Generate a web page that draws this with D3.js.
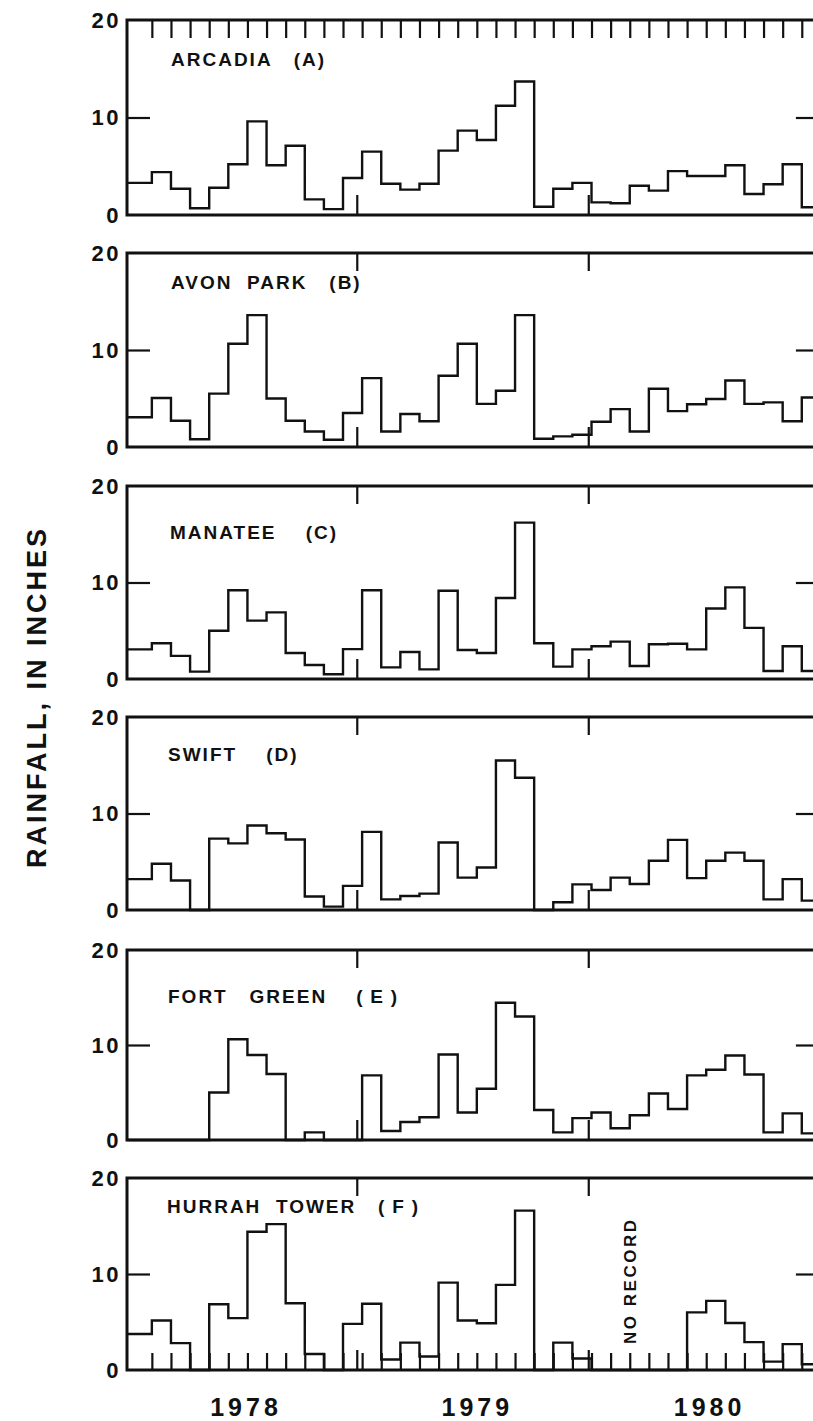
<!DOCTYPE html>
<html><head><meta charset="utf-8">
<script src="https://cdn.jsdelivr.net/npm/d3@7"></script>
<style>
body{margin:0;background:#fff}
svg{display:block}
text{font-family:"Liberation Sans",Arial,sans-serif;font-weight:bold;fill:#111}
</style></head>
<body><svg id="chart" width="813" height="1421"></svg>
<script>
// ---------------- data ----------------
// month index 0 = Jan 1978 ... 35 = Dec 1980
const stations = ["ARCADIA   (A)", "AVON  PARK   (B)", "MANATEE    (C)", "SWIFT    (D)", "FORT   GREEN    (\u2009E\u2009)", "HURRAH  TOWER   (\u2009F\u2009)"];
const arcadia    = [3.3,4.4,2.7,0.7,2.8,5.2,9.6,5.1,7.1,1.6,0.6,3.8, 6.5,3.2,2.6,3.2,6.6,8.65,7.7,11.2,13.7,0.85,2.7,3.3, 1.3,1.2,3.0,2.5,4.5,4.0,4.0,5.1,2.15,3.15,5.2,0.8];
const avonPark   = [3.06,5.05,2.7,0.8,5.5,10.65,13.6,5.0,2.7,1.6,0.75,3.5, 7.1,1.6,3.4,2.65,7.35,10.65,4.45,5.8,13.6,0.85,1.1,1.27, 2.6,3.9,1.6,6.0,3.7,4.4,4.95,6.85,4.45,4.6,2.65,5.1];
const manatee    = [3.07,3.7,2.4,0.76,5.0,9.2,6.05,6.9,2.7,1.45,0.5,3.1, 9.2,1.2,2.8,1.0,9.15,3.0,2.7,8.4,16.2,3.7,1.28,3.07, 3.4,3.87,1.35,3.6,3.65,3.07,7.3,9.5,5.3,0.83,3.4,0.83];
const swift      = [3.2,4.8,3.05,0,7.4,6.9,8.75,7.95,7.3,1.4,0.35,2.5, 8.1,1.1,1.45,1.7,7.0,3.35,4.4,15.5,13.7,0,0.8,2.66, 2.08,3.35,2.7,5.1,7.27,3.3,5.1,5.95,5.1,1.1,3.2,0.97];
const fortGreen  = [0,0,0,0,5.0,10.6,8.95,6.95,0,0.8,0,0, 6.8,0.95,1.9,2.4,9.0,2.9,5.4,14.45,13.0,3.16,0.8,2.3, 2.9,1.23,2.6,4.9,3.26,6.8,7.4,8.9,6.9,0.8,2.8,0.7];
const hurrahTower= [3.75,5.15,2.8,0,6.85,5.4,14.4,15.2,6.95,1.67,0,4.8, 6.9,1.1,2.85,1.4,9.1,5.15,4.87,8.87,16.6,0,2.85,1.2, null,null,null,null,null,6.0,7.2,4.9,2.9,0.87,2.7,0.6];
const series = [arcadia, avonPark, manatee, swift, fortGreen, hurrahTower];
const yTickLabels = [0, 10, 20];
const yearLabels = ["1978", "1979", "1980"];
const yearLabelPos = [5.9, 18.0, 30.15];    // month-index position of year labels
const yearTicks = [11.72, 23.83];           // year division marks (month index)
const monthTicks = d3.range(1, 36);
const noRecordText = "NO RECORD";
const noRecordPos = [26.0, 9.3];            // month index, inches
const yTitle = "RAINFALL, IN INCHES";

// ---------------- layout ----------------
const svg = d3.select("#chart");
const tops = [20, 253, 486, 717, 950, 1178];
const bottoms = [215, 447, 679, 910, 1140, 1370];
const x = d3.scaleLinear().domain([-0.3, 36]).range([127, 820.9]);
const x0 = x(-0.3), x1 = x(36);

series.forEach((vals, p) => {
  const top = tops[p], bot = bottoms[p];
  const y = d3.scaleLinear().domain([0, 20]).range([bot, top]);
  const g = svg.append("g");

  // month / year ticks
  if (p === 0) {
    g.append("g").attr("transform", `translate(0,${top})`)
      .call(d3.axisTop(x).tickValues(monthTicks).tickSize(-18).tickFormat(""));
  } else {
    g.append("g").attr("transform", `translate(0,${top})`)
      .call(d3.axisTop(x).tickValues(yearTicks).tickSize(-18).tickFormat(""));
  }
  if (p === 5) {
    g.append("g").attr("transform", `translate(0,${bot})`)
      .call(d3.axisBottom(x).tickValues(monthTicks).tickSize(-17).tickFormat(""));
  }
  g.append("g").attr("transform", `translate(0,${bot})`)
    .call(d3.axisBottom(x).tickValues(yearTicks).tickSize(-20).tickFormat(""));

  // y ticks (inward) at 10
  g.append("g").attr("transform", `translate(${x0},0)`)
    .call(d3.axisLeft(y).tickValues([10]).tickSize(-23).tickFormat(""));
  g.append("g").attr("transform", `translate(${x1},0)`)
    .call(d3.axisRight(y).tickValues([10]).tickSize(-25).tickFormat(""));
  // y labels
  const yl = g.append("g").attr("class", "ylab").attr("transform", `translate(${x0},0)`)
    .call(d3.axisLeft(y).tickValues(yTickLabels).tickSize(0).tickPadding(6).tickFormat(d3.format("d")));
  yl.selectAll("text").style("font-size", "22px").style("letter-spacing", "2.5px")
    .attr("font-family", null).attr("fill", "#111");

  g.selectAll(".domain").remove();
  g.selectAll(".tick line").attr("stroke", "#111").attr("stroke-width", 2.2);

  // frame
  g.append("rect").attr("x", x0).attr("y", top).attr("width", x1 - x0).attr("height", bot - top)
    .attr("fill", "none").attr("stroke", "#111").attr("stroke-width", 3);

  // step line
  const pts = vals.map((v, i) => [i === 0 ? -0.3 : i, v == null ? 0 : v]);
  pts.push([36, pts[pts.length - 1][1]]);
  const line = d3.line().x(d => x(d[0])).y(d => y(d[1])).curve(d3.curveStepAfter);
  g.append("path").attr("d", line(pts)).attr("fill", "none")
    .attr("stroke", "#111").attr("stroke-width", 2.4).attr("stroke-linejoin", "miter");

  // station label
  const labelY = [66, 289, 539, 761, 1003, 1213][p];
  const labelX = [171, 171, 170, 168, 168, 167][p];
  g.append("text").attr("x", labelX).attr("y", labelY)
    .style("white-space", "pre").attr("xml:space", "preserve")
    .style("font-size", "19px").style("letter-spacing", "2px")
    .text(stations[p]);

  if (p === 5) {
    g.append("text")
      .attr("transform", `translate(${x(noRecordPos[0]) + 6},${y(noRecordPos[1])}) rotate(-90)`)
      .attr("text-anchor", "middle")
      .style("font-size", "17px").style("letter-spacing", "2.5px")
      .text(noRecordText);
    // year labels
    const ya = g.append("g").attr("transform", `translate(0,${bot})`)
      .call(d3.axisBottom(x).tickValues(yearLabelPos).tickSize(0).tickPadding(28)
        .tickFormat((d, i) => yearLabels[i]));
    ya.select(".domain").remove();
    ya.selectAll("text").style("font-size", "25px").style("letter-spacing", "4px")
      .attr("font-family", null).attr("fill", "#111");
  }
});

// y axis title
svg.append("text")
  .attr("transform", `translate(46,697) rotate(-90)`)
  .attr("text-anchor", "middle")
  .style("font-size", "27px").style("letter-spacing", "3px")
  .text(yTitle);
</script>
</body></html>
